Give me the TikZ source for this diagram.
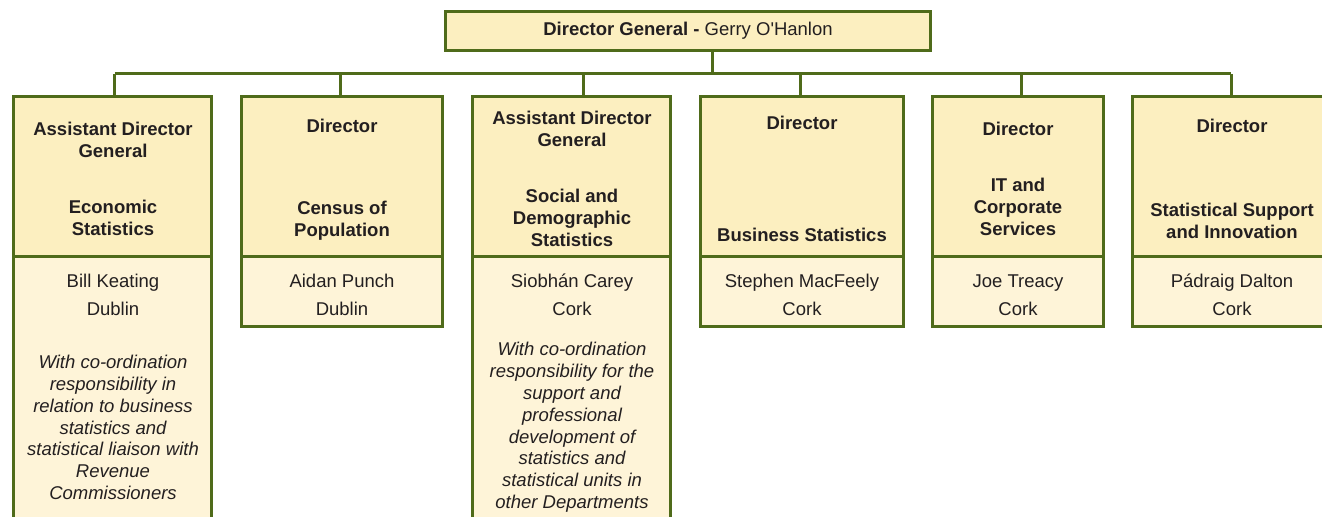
\documentclass[tikz,border=0pt]{standalone}
\usepackage{fontspec}
\setmainfont{Liberation Sans}[Ligatures=TeXOff]
\definecolor{olive}{HTML}{4F6B1A}
\definecolor{headfill}{HTML}{FCEFC0}
\definecolor{bodyfill}{HTML}{FEF4D8}
\definecolor{ink}{HTML}{231F20}
\tikzset{
	unitbox/.style={draw=olive, line width=1.5pt, inner sep=0pt, outer sep=0pt, anchor=north west},
	headbox/.style={unitbox, fill=headfill, minimum height=160.5*0.5pt},
	bodybox/.style={unitbox, fill=bodyfill},
	link/.style={draw=olive, line width=1.5pt},
	txt/.style={text=ink, inner sep=0pt, align=center, font=\fontsize{9.25}{11}\selectfont},
	btxt/.style={txt, font=\bfseries\fontsize{9.25}{11}\selectfont},
	itxt/.style={txt, font=\itshape\fontsize{9.25}{10.9}\selectfont}
}
\begin{document}
\begin{tikzpicture}[x=0.5pt, y=-0.5pt]
		\clip (0,0) rectangle (1322,517);
		\node[headbox, anchor=center, minimum width=485*0.5pt, minimum height=39*0.5pt] (DG0) at (688,31) {};
		\node[txt] (T0) at (688,31) {\textbf{Director General -} Gerry O'Hanlon};
		% header boxes
		\node[headbox, minimum width=198*0.5pt] (HD1) at (13.5,96.5) {};
		\node[headbox, minimum width=201*0.5pt] (HD2) at (241.5,96.5) {};
		\node[headbox, minimum width=198*0.5pt] (HD3) at (472.5,96.5) {};
		\node[headbox, minimum width=203*0.5pt] (HD4) at (700.5,96.5) {};
		\node[headbox, minimum width=171*0.5pt] (HD5) at (932.5,96.5) {};
		\node[headbox, minimum width=207*0.5pt] (HD6) at (1132.5,96.5) {};
		% name boxes
		\node[bodybox, minimum width=198*0.5pt, minimum height=280*0.5pt] (PP1) at (HD1.south west) {};
		\node[bodybox, minimum width=201*0.5pt, minimum height=69.5*0.5pt] (PP2) at (HD2.south west) {};
		\node[bodybox, minimum width=198*0.5pt, minimum height=280*0.5pt] (PP3) at (HD3.south west) {};
		\node[bodybox, minimum width=203*0.5pt, minimum height=69.5*0.5pt] (PP4) at (HD4.south west) {};
		\node[bodybox, minimum width=171*0.5pt, minimum height=69.5*0.5pt] (PP5) at (HD5.south west) {};
		\node[bodybox, minimum width=207*0.5pt, minimum height=69.5*0.5pt] (PP6) at (HD6.south west) {};
		% connectors
		\coordinate (bus) at (712,74);
		\draw[link] (bus |- DG0.south) -- (bus);
		\draw[link] ([xshift=1pt]HD1.north |- bus) -- ([xshift=-2.5pt]HD6.north |- bus);
		\draw[link] ([xshift=1pt]HD1.north |- bus) -- ([xshift=1pt]HD1.north);
		\draw[link] ([xshift=-1pt]HD2.north |- bus) -- ([xshift=-1pt]HD2.north);
		\draw[link] ([xshift=5.75pt]HD3.north |- bus) -- ([xshift=5.75pt]HD3.north);
		\draw[link] ([xshift=-1pt]HD4.north |- bus) -- ([xshift=-1pt]HD4.north);
		\draw[link] ([xshift=1.5pt]HD5.north |- bus) -- ([xshift=1.5pt]HD5.north);
		\draw[link] ([xshift=-2.5pt]HD6.north |- bus) -- ([xshift=-2.5pt]HD6.north);
		% header texts
		\node[btxt] (T1a) at (113,140) {Assistant Director\\General};
		\node[btxt] (T1b) at (113,218) {Economic\\Statistics};
		\node[btxt] (T2a) at (342,126) {Director};
		\node[btxt] (T2b) at (342,221) {Census of\\Population};
		\node[btxt] (T3a) at (572,129) {Assistant Director\\General};
		\node[btxt] (T3b) at (572,218) {Social and\\Demographic\\Statistics};
		\node[btxt] (T4a) at (802,123) {Director};
		\node[btxt] (T4b) at (802,235) {Business Statistics};
		\node[btxt] (T5a) at (1018,129) {Director};
		\node[btxt] (T5b) at (1018,207) {IT and\\Corporate\\Services};
		\node[btxt] (T6a) at (1232,126) {Director};
		\node[btxt] (T6b) at (1232,221) {Statistical Support\\and Innovation};
		% names and places
		\node[txt] (N1) at (113,295) {Bill Keating\\[3pt]Dublin};
		\node[txt] (N2) at (342,295) {Aidan Punch\\[3pt]Dublin};
		\node[txt] (N3) at (572,295) {Siobh\'an Carey\\[3pt]Cork};
		\node[txt] (N4) at (802,295) {Stephen MacFeely\\[3pt]Cork};
		\node[txt] (N5) at (1018,295) {Joe Treacy\\[3pt]Cork};
		\node[txt] (N6) at (1232,295) {P\'adraig Dalton\\[3pt]Cork};
		% remits
		\node[itxt] (R1) at (113,427.5) {With co-ordination\\responsibility in\\relation to business\\statistics and\\statistical liaison with\\Revenue\\Commissioners};
		\node[itxt] (R3) at (572,427.5) {With co-ordination\\responsibility for the\\support and\\professional\\development of\\statistics and\\statistical units in\\other Departments};
	\end{tikzpicture}
\end{document}
